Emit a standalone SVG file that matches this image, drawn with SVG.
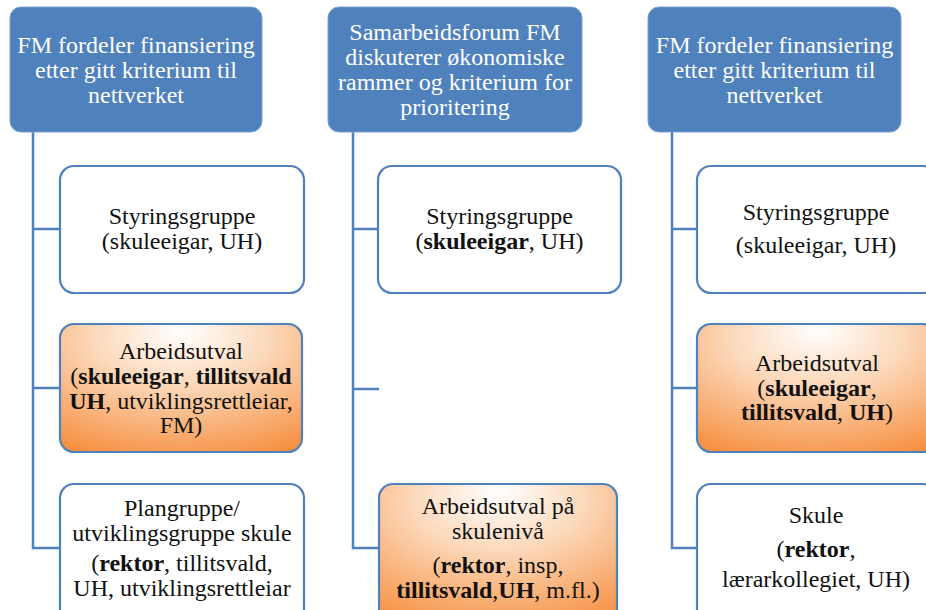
<svg xmlns="http://www.w3.org/2000/svg" width="926" height="610" viewBox="0 0 926 610">
<style>
text{font-family:"Liberation Serif","Times New Roman",serif;font-size:24px;text-anchor:middle;fill:#111}
.top rect{fill:#4F81BD;stroke:#7aa0d0;stroke-width:1}
.top text{fill:#fff}
.box{fill:#fff;stroke:#4F81BD;stroke-width:2.2}
.org{fill:url(#og);stroke:#4F81BD;stroke-width:2.2}
.b{font-weight:bold}
#connectors path{fill:none;stroke:#4F81BD;stroke-width:2.5}
</style>
<defs>
<radialGradient id="og" cx="0.5" cy="0.2" r="0.9" fx="0.5" fy="0.05">
<stop offset="0" stop-color="#ffffff"/>
<stop offset="0.4" stop-color="#fcd9bb"/>
<stop offset="1" stop-color="#f68f40"/>
</radialGradient>
</defs>
<rect width="926" height="610" fill="#fff"/>
<g id="connectors">
<path d="M33 132V548H60M33 229H60M33 388H60"/>
<path d="M353 132V548H379M353 229H378M353 389H379"/>
<path d="M672 132V548H697M672 229H697M672 388H697"/>
</g>
<g id="top1" class="top">
<rect x="10" y="7" width="252" height="125" rx="11"/>
<text x="136" y="52.5">FM fordeler finansiering</text>
<text x="136" y="77.5">etter gitt kriterium til</text>
<text x="136" y="102.5">nettverket</text>
</g>
<g id="top2" class="top">
<rect x="328" y="7" width="254" height="125" rx="11"/>
<text x="455" y="40">Samarbeidsforum FM</text>
<text x="455" y="65">diskuterer økonomiske</text>
<text x="455" y="90">rammer og kriterium for</text>
<text x="455" y="115">prioritering</text>
</g>
<g id="top3" class="top">
<rect x="648" y="7" width="253" height="125" rx="11"/>
<text x="774.5" y="52.5">FM fordeler finansiering</text>
<text x="774.5" y="77.5">etter gitt kriterium til</text>
<text x="774.5" y="102.5">nettverket</text>
</g>
<g id="styr1">
<rect class="box" x="60" y="166" width="244" height="127" rx="14"/>
<text x="182" y="224">Styringsgruppe</text>
<text x="182" y="249">(skuleeigar, UH)</text>
</g>
<g id="arb1">
<rect class="org" x="60" y="324" width="242" height="128" rx="14"/>
<text x="181" y="359">Arbeidsutval</text>
<text x="181" y="384">(<tspan class="b">skuleeigar</tspan>, <tspan class="b">tillitsvald</tspan></text>
<text x="181" y="409"><tspan class="b">UH</tspan>, utviklingsrettleiar,</text>
<text x="181" y="433">FM)</text>
</g>
<g id="plan1">
<rect class="box" x="60" y="484" width="244" height="140" rx="14"/>
<text x="182" y="516">Plangruppe/</text>
<text x="182" y="541">utviklingsgruppe skule</text>
<text x="182" y="571">(<tspan class="b">rektor</tspan>, tillitsvald,</text>
<text x="182" y="596">UH, utviklingsrettleiar</text>
</g>
<g id="styr2">
<rect class="box" x="378" y="166" width="243" height="127" rx="14"/>
<text x="499.5" y="224">Styringsgruppe</text>
<text x="499.5" y="249">(<tspan class="b">skuleeigar</tspan>, UH)</text>
</g>
<g id="arb2">
<rect class="org" x="379" y="484" width="238" height="140" rx="14"/>
<text x="498" y="514">Arbeidsutval på</text>
<text x="498" y="539">skulenivå</text>
<text x="498" y="573">(<tspan class="b">rektor</tspan>, insp,</text>
<text x="498" y="598"><tspan class="b">tillitsvald</tspan>,<tspan class="b">UH</tspan>, m.fl.)</text>
</g>
<g id="styr3">
<rect class="box" x="697" y="166" width="240" height="127" rx="14"/>
<text x="816" y="220">Styringsgruppe</text>
<text x="816" y="253">(skuleeigar, UH)</text>
</g>
<g id="arb3">
<rect class="org" x="697" y="324" width="240" height="128" rx="14"/>
<text x="817" y="371">Arbeidsutval</text>
<text x="817" y="396">(<tspan class="b">skuleeigar</tspan>,</text>
<text x="817" y="420"><tspan class="b">tillitsvald</tspan>, <tspan class="b">UH</tspan>)</text>
</g>
<g id="skule3">
<rect class="box" x="697" y="484" width="240" height="140" rx="14"/>
<text x="816" y="523">Skule</text>
<text x="816" y="557">(<tspan class="b">rektor</tspan>,</text>
<text x="816" y="587">lærarkollegiet, UH)</text>
</g>
</svg>
